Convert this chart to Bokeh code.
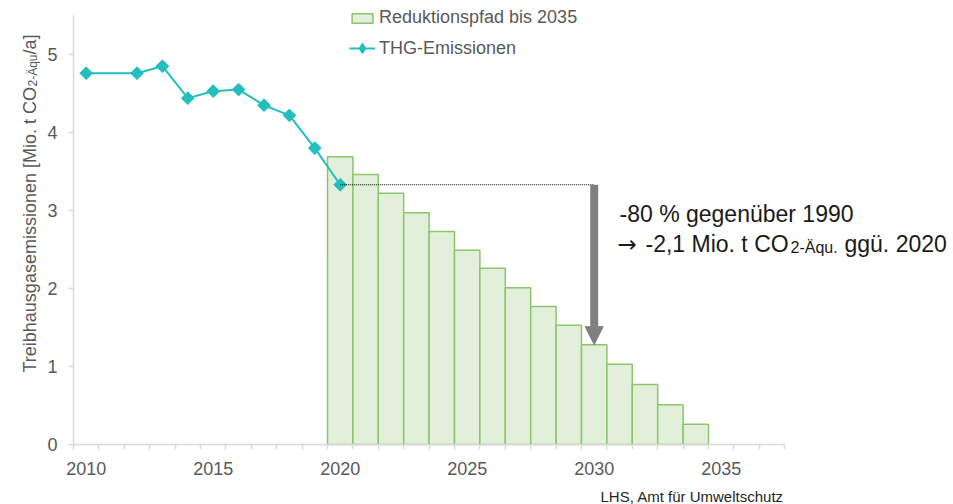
import numpy as np
from bokeh.plotting import figure
from bokeh.models import (Range1d, FixedTicker, Label, Legend, LegendItem, Arrow, NormalHead)
from bokeh.embed import file_html
from bokeh.resources import INLINE

# ---- data ----
hist_years = [2010, 2012, 2013, 2014, 2015, 2016, 2017, 2018, 2019, 2020]
hist_values = [4.76, 4.76, 4.85, 4.44, 4.53, 4.55, 4.35, 4.22, 3.80, 3.33]
path_years = [2020, 2021, 2022, 2023, 2024, 2025, 2026, 2027, 2028, 2029, 2030, 2031, 2032, 2033, 2034]
path_values = [3.69, 3.46, 3.22, 2.97, 2.73, 2.49, 2.26, 2.01, 1.77, 1.53, 1.28, 1.03, 0.77, 0.51, 0.26]
x_label_years = [2010, 2015, 2020, 2025, 2030, 2035]
all_years = list(range(2010, 2038))
y_ticks = [0, 1, 2, 3, 4, 5]
y_max = 5.5
target_year = 2030

# ---- layout constants (pixels) ----
W, H = 953, 504
AXIS_LEFT_PX = 73      # position of the y axis from the left edge
AXIS_BOTTOM_PX = 444   # position of the x axis from the top edge
PX_PER_YEAR = 25.4
PX_PER_UNIT = 78.0

FONT = "Liberation Sans"
GRAY_TXT = "#595959"
AXIS_COL = "#d9d9d9"
TEAL = "#22bfbd"
BAR_FILL = "#e2efda"
BAR_LINE = "#8cc56a"

x_lo = all_years[0] - 0.5
x_hi = all_years[-1] + 0.5
xr_start = x_lo - AXIS_LEFT_PX / PX_PER_YEAR
yr_start = -(H - AXIS_BOTTOM_PX) / PX_PER_UNIT

p = figure(width=W, height=H, output_backend="svg", toolbar_location=None,
           x_range=Range1d(xr_start, xr_start + W / PX_PER_YEAR),
           y_range=Range1d(yr_start, yr_start + H / PX_PER_UNIT),
           min_border=0)
p.outline_line_color = None
p.xgrid.visible = False
p.ygrid.visible = False
p.background_fill_color = "white"
p.border_fill_color = "white"

# x axis: labels at 2010, 2015, ...; tick marks at category boundaries
p.xaxis.fixed_location = 0
p.xaxis.bounds = (x_lo, x_hi)
p.xaxis.ticker = FixedTicker(ticks=x_label_years, minor_ticks=[y - 0.5 for y in all_years] + [x_hi])
p.xaxis.major_tick_out = 0
p.xaxis.major_tick_in = 0
p.xaxis.minor_tick_out = 5
p.xaxis.minor_tick_in = 0
p.xaxis.minor_tick_line_color = AXIS_COL
p.xaxis.minor_tick_line_width = 1.5
p.xaxis.axis_line_color = AXIS_COL
p.xaxis.axis_line_width = 1.5
p.xaxis.major_label_text_font = FONT
p.xaxis.major_label_text_font_size = "18px"
p.xaxis.major_label_text_color = GRAY_TXT
p.xaxis.major_label_standoff = 12

p.yaxis.fixed_location = x_lo
p.yaxis.bounds = (0, y_max)
p.yaxis.ticker = FixedTicker(ticks=y_ticks, minor_ticks=[])
p.yaxis.major_tick_out = 5
p.yaxis.major_tick_in = 0
p.yaxis.major_tick_line_color = AXIS_COL
p.yaxis.major_tick_line_width = 1.5
p.yaxis.minor_tick_out = 0
p.yaxis.minor_tick_in = 0
p.yaxis.axis_line_color = AXIS_COL
p.yaxis.axis_line_width = 1.5
p.yaxis.major_label_text_font = FONT
p.yaxis.major_label_text_font_size = "18px"
p.yaxis.major_label_text_color = GRAY_TXT
p.yaxis.major_label_standoff = 11

# bars
bars = p.vbar(x=path_years, width=1, top=path_values, bottom=0,
              fill_color=BAR_FILL, line_color=BAR_LINE, line_width=1.5)

# emission line
ln = p.line(hist_years, hist_values, line_color=TEAL, line_width=2)
# diamond glyph (hidden beneath the rotated squares) used for the legend entry
sc_leg = p.scatter(hist_years, hist_values, marker="diamond", size=9,
                   fill_color=TEAL, line_color=TEAL)
sc = p.scatter(hist_years, hist_values, marker="square", angle=np.pi / 4, size=9,
               fill_color=TEAL, line_color=TEAL)

# dotted reference line and arrow
v_start = hist_values[-1]
v_target = path_values[path_years.index(target_year)]
p.line([hist_years[-1], target_year], [v_start, v_start], line_color="black",
       line_width=1, line_dash="1 1")
p.add_layout(Arrow(x_start=target_year, y_start=v_start, x_end=target_year, y_end=v_target,
                   line_color="#808080", line_width=8,
                   end=NormalHead(size=18, fill_color="#808080", line_color="#808080")))

# legends (two, so each entry gets its own glyph proportions)
leg_common = dict(orientation="vertical", background_fill_alpha=0, border_line_color=None,
                  padding=0, margin=0, spacing=0, glyph_width=26, label_standoff=4,
                  label_text_font=FONT, label_text_font_size="18px",
                  label_text_color=GRAY_TXT, label_text_baseline="middle")
legend1 = Legend(items=[LegendItem(label="Reduktionspfad bis 2035", renderers=[bars])],
                 location=(349, 476), label_height=20, glyph_height=12, **leg_common)
legend2 = Legend(items=[LegendItem(label="THG-Emissionen", renderers=[ln, sc_leg])],
                 location=(349, 442), label_height=28, glyph_height=28, **leg_common)
p.add_layout(legend1)
p.add_layout(legend2)

# y-axis label with subscript (composed)
ylab = dict(x_units="screen", y_units="screen", angle=np.pi / 2, text_align="left",
            text_baseline="alphabetic", text_font=FONT, text_color=GRAY_TXT)
p.add_layout(Label(x=29, y=H - 372, text="Treibhausgasemissionen [Mio. t CO", text_font_size="18px", **ylab))
p.add_layout(Label(x=32, y=H - 86, text="2-Äqu", text_font_size="12px", **ylab))
p.add_layout(Label(x=29, y=H - 54, text="/a]", text_font_size="18px", **ylab))

# annotation text
ann = dict(x_units="screen", y_units="screen", text_align="left",
           text_baseline="alphabetic", text_font=FONT, text_color="#1a1a1a")
p.add_layout(Label(x=619, y=H - 213, text="-80 % gegenüber 1990", text_font_size="23px", **ann))
p.add_layout(Label(x=617, y=H - 243, text="→", text_font_size="23px",
                   **{**ann, "text_font": "DejaVu Sans"}))
p.add_layout(Label(x=645, y=H - 243, text="-2,1 Mio. t CO", text_font_size="23px", **ann))
p.add_layout(Label(x=790, y=H - 247, text="2-Äqu.", text_font_size="16px", **ann))
p.add_layout(Label(x=844, y=H - 243, text="ggü. 2020", text_font_size="23px", **ann))

# source
p.add_layout(Label(x=600, y=H - 496, text="LHS, Amt für Umweltschutz", text_font_size="15px",
                   x_units="screen", y_units="screen", text_align="left",
                   text_baseline="alphabetic", text_font=FONT, text_color="#262626"))

open("out.html", "w").write(file_html(p, INLINE))
